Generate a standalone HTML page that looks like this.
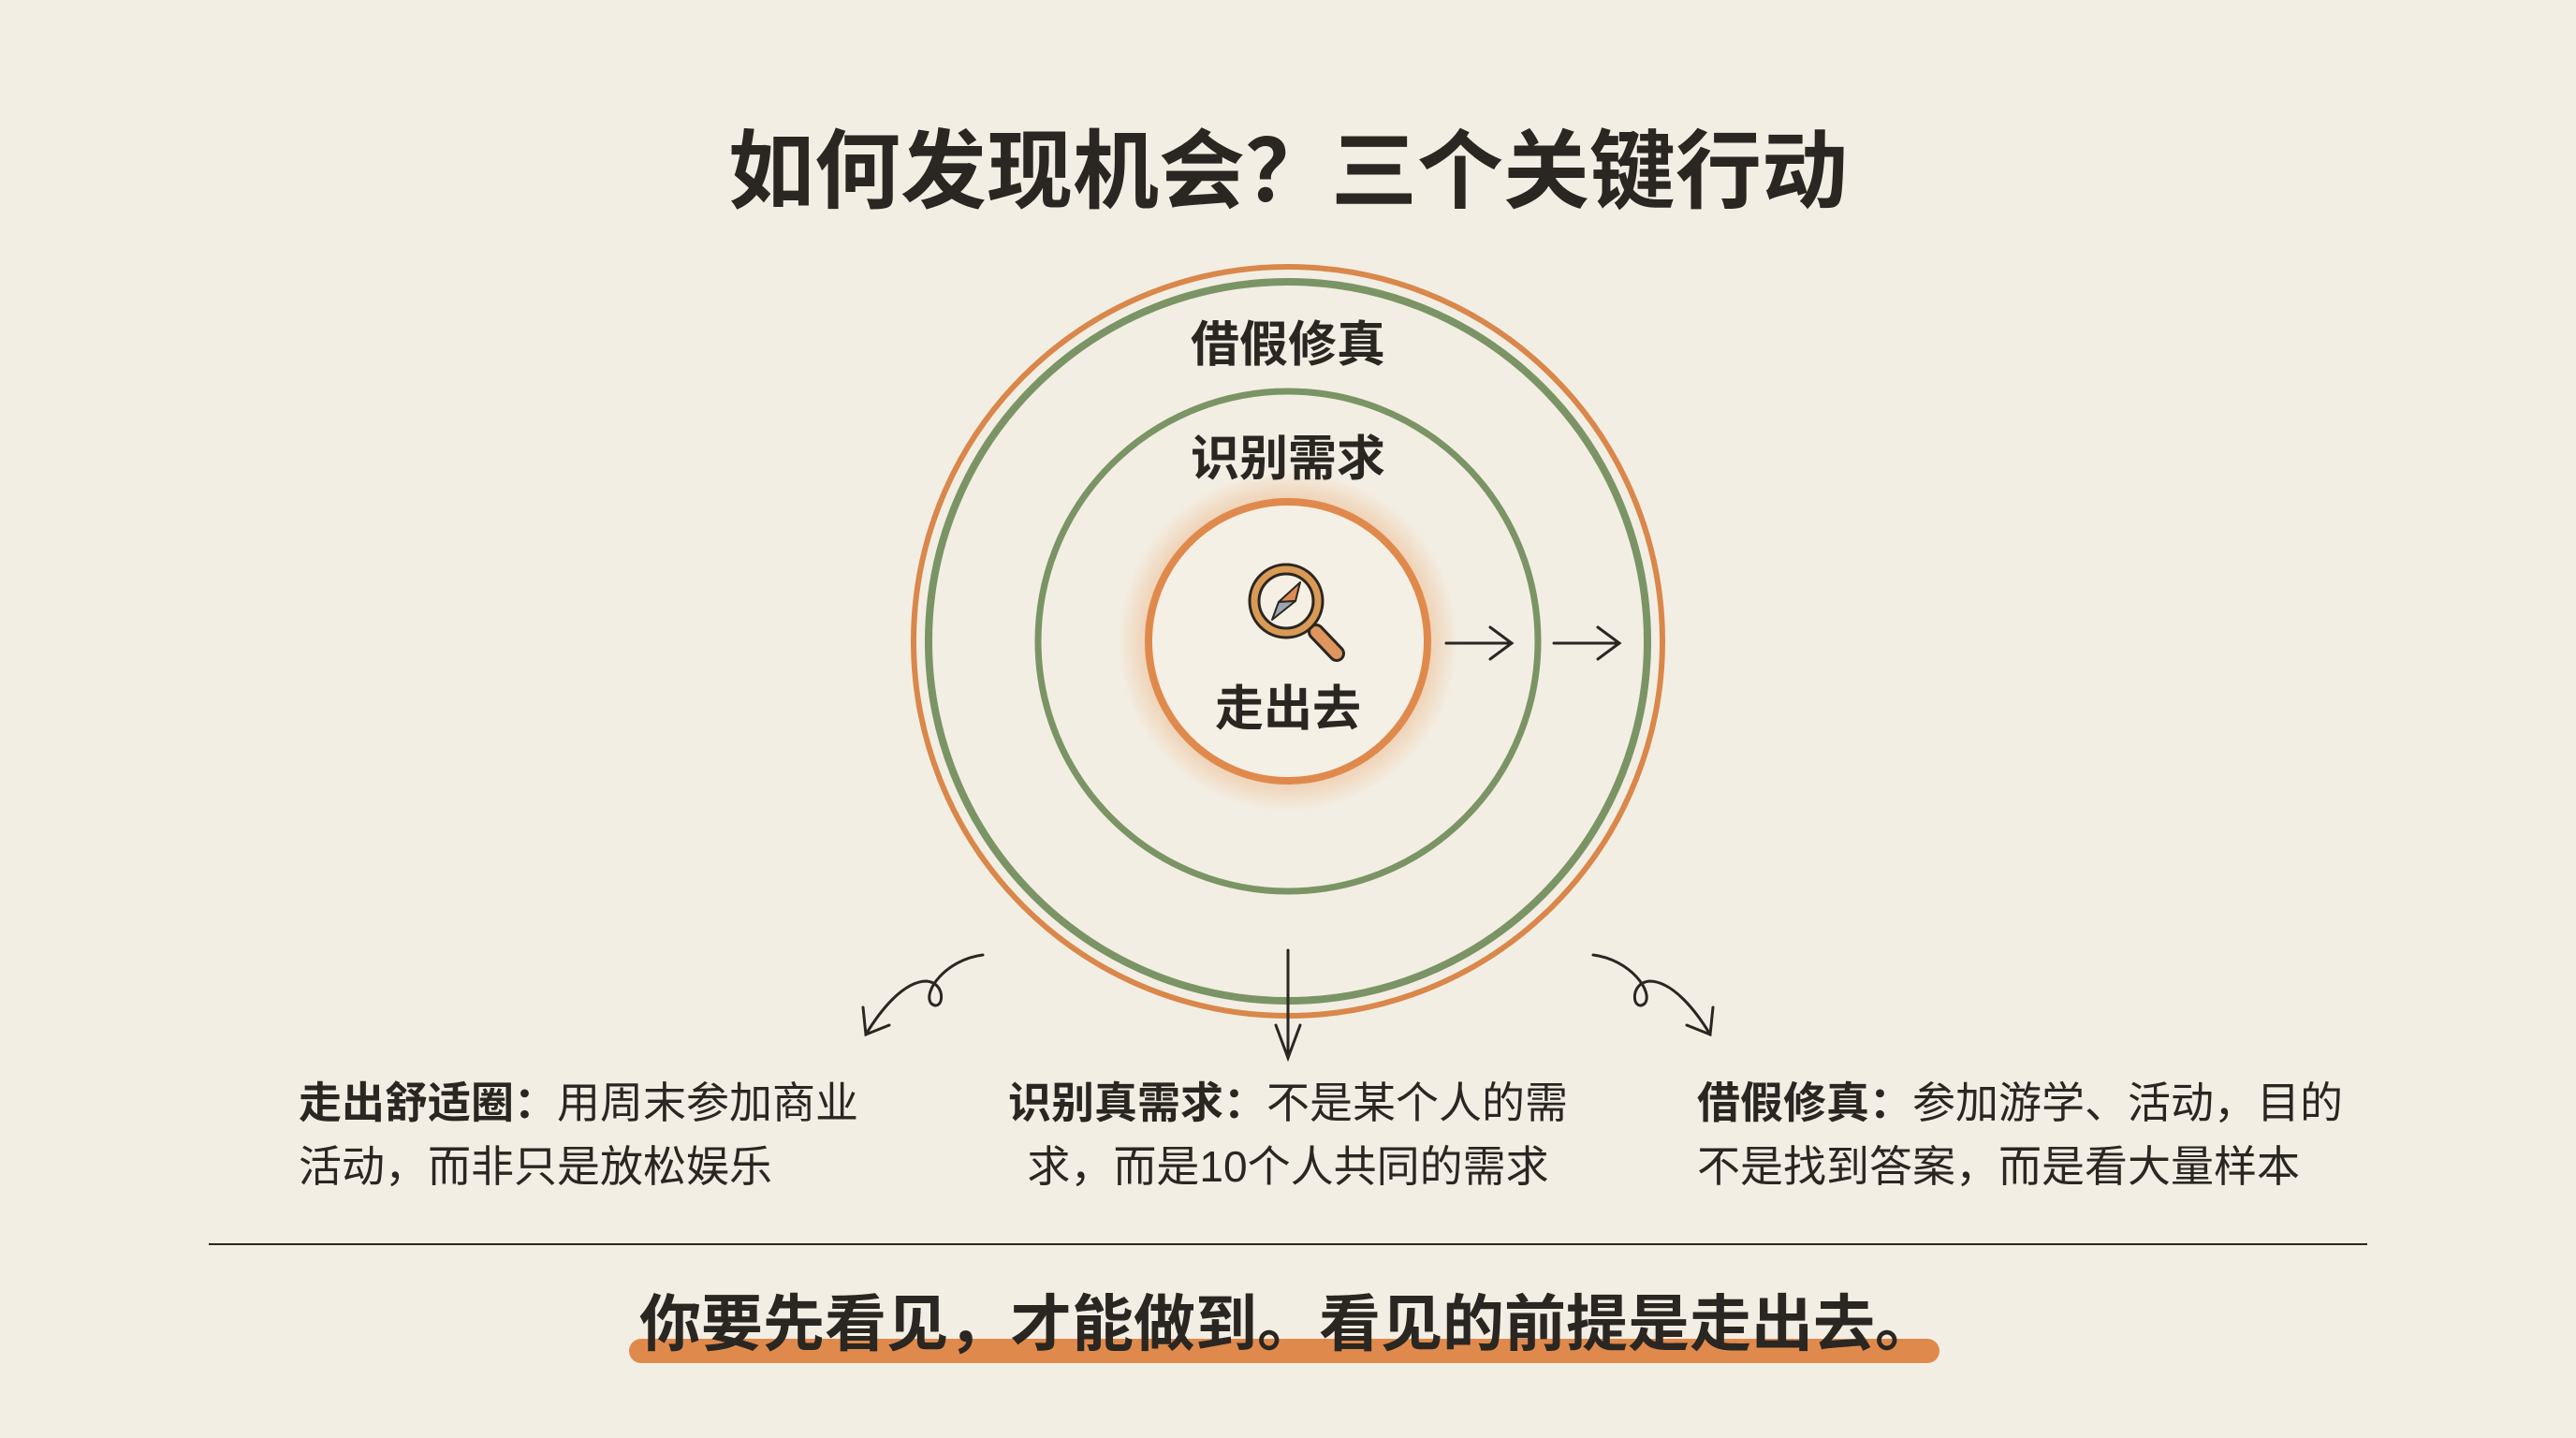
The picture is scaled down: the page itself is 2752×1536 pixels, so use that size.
<!DOCTYPE html>
<html><head><meta charset="utf-8"><style>
html,body{margin:0;padding:0}
body{width:2752px;height:1536px;background:#f3eee3;position:relative;overflow:hidden;font-family:"Liberation Sans","Noto Sans CJK SC",sans-serif;color:#2a2622}
.t{position:absolute;white-space:nowrap}
</style></head><body>
<svg width="2752" height="1536" style="position:absolute;left:0;top:0">
<defs>
<radialGradient id="g" cx="0.5" cy="0.5" r="0.5">
<stop offset="0.8" stop-color="#e89a5a" stop-opacity="0.4"/>
<stop offset="1" stop-color="#e89a5a" stop-opacity="0"/>
</radialGradient>
</defs>
<circle cx="1376" cy="685" r="400" fill="none" stroke="#d9874a" stroke-width="6"/>
<circle cx="1376" cy="685" r="384" fill="none" stroke="#7b9465" stroke-width="8"/>
<circle cx="1376" cy="685" r="267" fill="none" stroke="#7b9465" stroke-width="7"/>
<circle cx="1376" cy="685" r="182" fill="url(#g)"/>
<circle cx="1376" cy="685" r="149" fill="#f5f0e6" stroke="#df8a4c" stroke-width="8"/>
<!-- magnifier -->
<g stroke="#2a2622" stroke-width="3">
<line x1="1406" y1="675" x2="1428" y2="698" stroke="#2a2622" stroke-width="18" stroke-linecap="round"/>
<line x1="1406" y1="675" x2="1428" y2="698" stroke="#e0955c" stroke-width="12" stroke-linecap="round"/>
<circle cx="1374" cy="642" r="39" fill="#d99a55"/>
<circle cx="1374" cy="642" r="29" fill="#f5efe4"/>
<polygon points="1389,622 1384,642 1366,643" fill="#e08b55" stroke-width="2" stroke-linejoin="round"/>
<polygon points="1384,642 1359,662 1366,643" fill="#9aa7b0" stroke-width="2" stroke-linejoin="round"/>
</g>
<g stroke="#2a2622" stroke-width="3" fill="none" stroke-linecap="round">
<line x1="1545" y1="687" x2="1615" y2="687"/><polyline points="1592,670 1615,687 1592,704"/>
<line x1="1660" y1="687" x2="1730" y2="687"/><polyline points="1707,670 1730,687 1707,704"/>
<line x1="1376" y1="1015" x2="1376" y2="1130"/><polyline points="1363,1095 1376,1130 1389,1095"/>
<path d="M1050,1020 C1010,1025 985,1060 995,1072 C1008,1082 1012,1050 990,1048 C965,1048 940,1080 925,1105"/>
<polyline points="922,1076 925,1105 950,1095"/>
<path d="M1702,1020 C1742,1025 1767,1060 1757,1072 C1744,1082 1740,1050 1762,1048 C1787,1048 1812,1080 1827,1105"/>
<polyline points="1830,1076 1827,1105 1802,1095"/>
</g>
<line x1="223" y1="1329" x2="2529" y2="1329" stroke="#2a2622" stroke-width="2"/>
<rect x="672" y="1430" width="1400" height="26" rx="13" fill="#df8a4c"/>
</svg>
<div class="t" style="left:0;width:2752px;text-align:center;top:128px;font-size:92px;font-weight:bold;line-height:112px">如何发现机会？三个关键行动</div>
<div class="t" style="left:0;width:2752px;text-align:center;top:338px;font-size:52px;font-weight:bold;line-height:62px">借假修真</div>
<div class="t" style="left:0;width:2752px;text-align:center;top:460px;font-size:52px;font-weight:bold;line-height:62px">识别需求</div>
<div class="t" style="left:0;width:2752px;text-align:center;top:727px;font-size:52px;font-weight:bold;line-height:62px">走出去</div>
<div class="t" style="left:319px;top:1144px;font-size:46px;line-height:68px"><b>走出舒适圈：</b>用周末参加商业<br>活动，而非只是放松娱乐</div>
<div class="t" style="left:1076px;width:600px;text-align:center;top:1144px;font-size:46px;line-height:68px"><b>识别真需求：</b>不是某个人的需<br>求，而是10个人共同的需求</div>
<div class="t" style="left:1813px;top:1144px;font-size:46px;line-height:68px"><b>借假修真：</b>参加游学、活动，目的<br>不是找到答案，而是看大量样本</div>
<div class="t" style="left:0;width:2752px;text-align:center;top:1376px;font-size:66px;font-weight:bold;line-height:76px">你要先看见，才能做到。看见的前提是走出去。</div>
</body></html>
